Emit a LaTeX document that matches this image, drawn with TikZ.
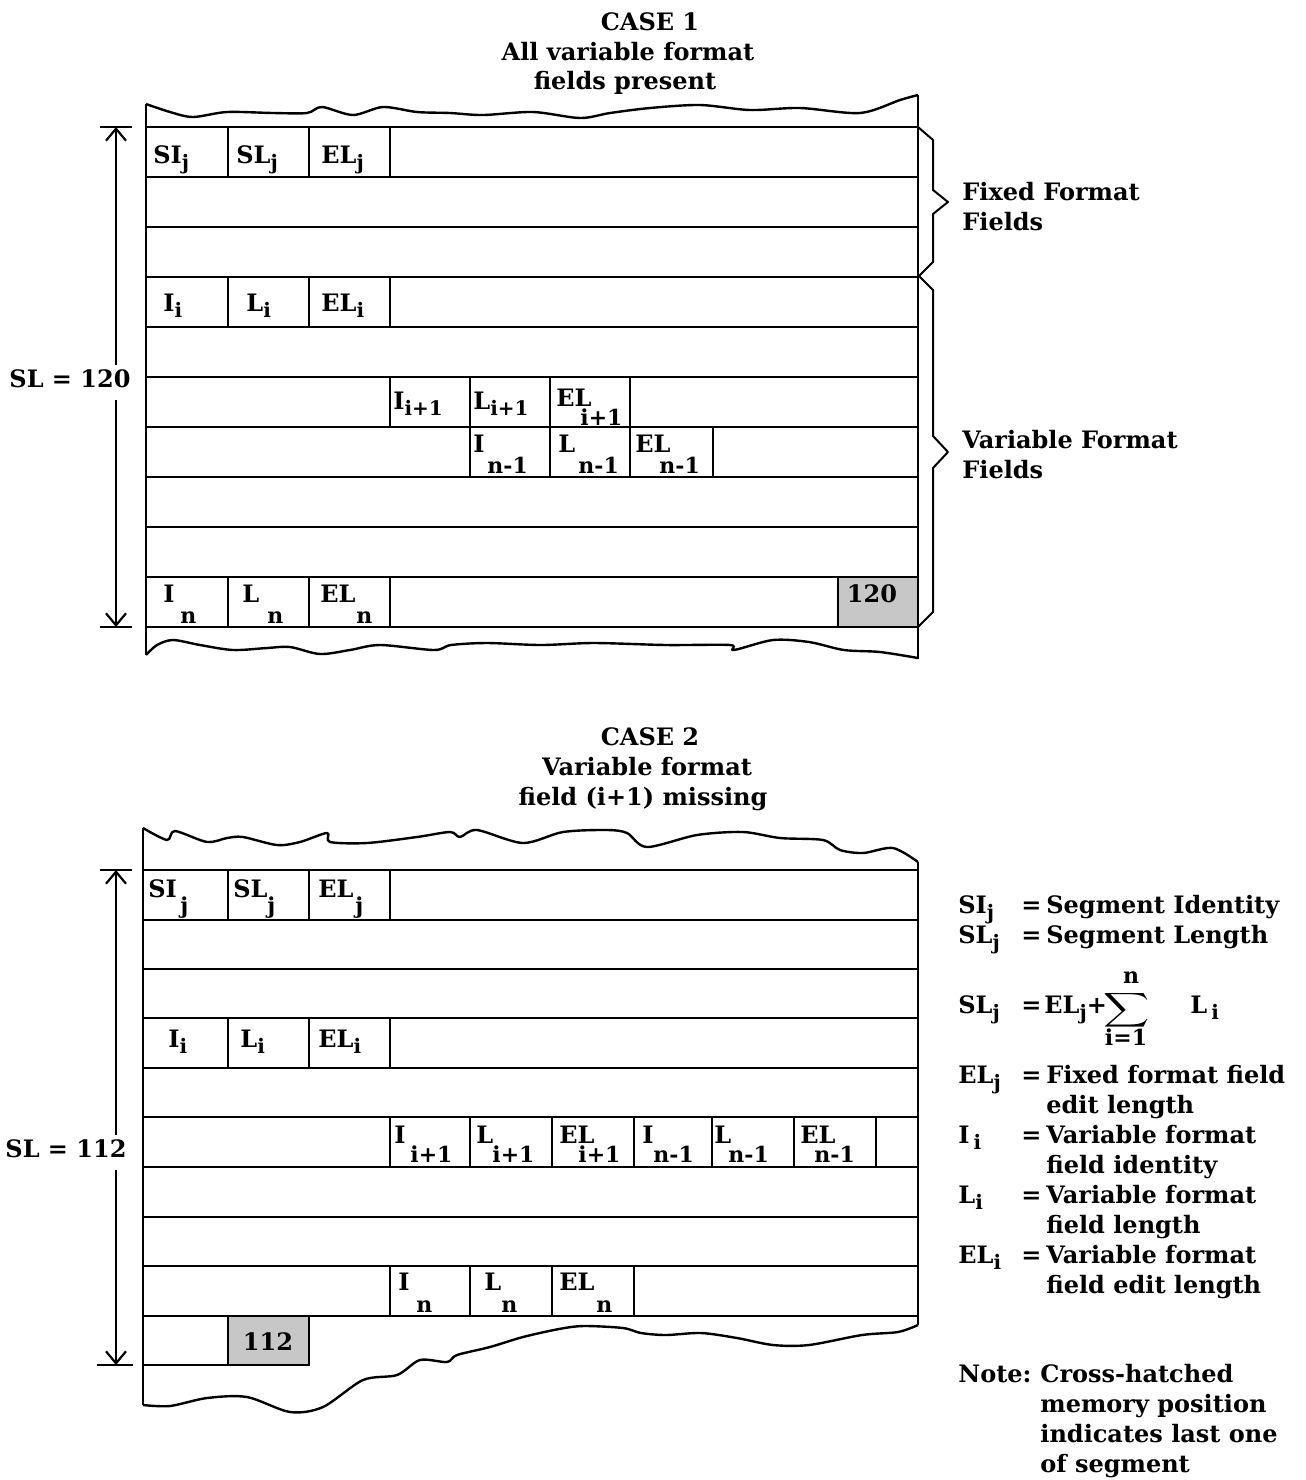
\documentclass[tikz,border=0pt]{standalone}
\usepackage{fontspec}
\setmainfont{DejaVu Serif}
\usetikzlibrary{arrows.meta}

\newcommand{\sbs}[1]{\raisebox{-0.5ex}{\fontsize{10}{12}\selectfont #1}}

\begin{document}
\begin{tikzpicture}[x=0.5pt, y=-0.5pt, >={Straight Barb[length=6pt,width=10pt,line width=1.1pt]},
                    font=\bfseries\fontsize{12}{15}\selectfont]
  \tikzstyle{edge} = [line width=1.2pt, line join=round]
  \tikzstyle{rule} = [line width=1pt]
  \tikzstyle{lbl} = [inner sep=0pt, anchor=base west]
  \tikzstyle{sublbl} = [inner sep=0pt, anchor=base west, font=\bfseries\fontsize{11}{13}\selectfont]
  \tikzstyle{last} = [rule, fill=black!22]
  \tikzstyle{ttl} = [inner sep=0pt, anchor=base]

  \useasboundingbox (0,0) rectangle (1306,1480);

  % titles
  \node[ttl] (t1a) at (650,30) {CASE 1};
  \node[ttl] (t1b) at (628,60) {All variable format};
  \node[ttl] (t1c) at (625,89) {fields present};
  \node[ttl] (t2a) at (650,745) {CASE 2};
  \node[ttl] (t2b) at (647,775) {Variable format};
  \node[ttl] (t2c) at (643,805) {field (i+1) missing};

  % ---------------- case 1 ----------------
  \filldraw[last] (838,577) rectangle (918,627);
  \node[ttl] (m120) at (872,602) {120};
  \foreach \y in {127,177,...,627} \draw[rule] (146,\y) -- (918,\y);
  \foreach \x/\ya in {228/127, 309/127, 390/127, 228/277, 309/277, 390/277,
                      390/377, 470/377, 550/377, 630/377,
                      470/427, 550/427, 630/427, 713/427,
                      228/577, 309/577, 390/577}
    \draw[rule] (\x,\ya) -- ++(0,50);
  \draw[edge] (146,104) -- (146,655);
  \draw[edge] (918,95) -- (918,659);
  \draw[edge] plot[smooth, tension=0.5] coordinates {(146,104) (170,112) (193,117) (227,112)
    (273,113) (307,113) (322,107) (353,115) (383,107) (417,112) (450,113) (483,115)
    (533,112) (580,118) (610,113) (650,108) (700,105) (750,110) (800,108) (860,113)
    (900,100) (918,95)};
  \draw[edge] plot[smooth, tension=0.5] coordinates {(146,655) (157,645) (173,640) (200,645)
    (233,650) (267,648) (290,647) (320,654) (350,650) (380,645) (434,650) (451,645)
    (487,643) (541,645) (594,643) (666,645) (730,645) (734,650) (773,640) (809,642)
    (844,650) (880,652) (918,658)};

  % braces
  \draw[rule, line join=round] (918,127) -- (933,140) -- (933,190) -- (948,202) -- (933,214)
    -- (933,262) -- (919,276) -- (933,290) -- (933,436) -- (948,452) -- (933,468)
    -- (933,612) -- (918,627);
  \node[lbl] (fx1) at (962,200) {Fixed Format};
  \node[lbl] (fx2) at (962,230) {Fields};
  \node[lbl] (vr1) at (962,448) {Variable Format};
  \node[lbl] (vr2) at (962,478) {Fields};

  % cell texts
  \foreach \x/\y/\t [count=\k] in {153/163/SI\sbs{j}, 236/163/SL\sbs{j}, 321/163/EL\sbs{j},
                                   163/311/I\sbs{i}, 246/311/L\sbs{i}, 321/311/EL\sbs{i},
                                   393/409/I\sbs{i+1}, 473/409/L\sbs{i+1}}
    \node[lbl] (ca\k) at (\x,\y) {\t};
  \foreach \x/\y/\t/\u/\v/\s [count=\k] in {556/406/EL/580/425/i+1,
                                   473/452/I/487/473/n-1, 558/452/L/578/473/n-1, 635/452/EL/659/473/n-1,
                                   163/602/I/180/623/n, 242/602/L/267/623/n, 320/602/EL/356/623/n}
  {
    \node[lbl] (cb\k) at (\x,\y) {\t};
    \node[sublbl] (cbs\k) at (\u,\v) {\s};
  }

  % segment length 1
  \coordinate (d1t) at (116,127);
  \coordinate (d1b) at (116,627);
  \node[ttl] (sl1) at (70,387) {SL = 120};
  \draw[rule] (100,127) -- (132,127);
  \draw[rule] (100,627) -- (132,627);
  \draw[rule, ->] (sl1.north -| d1t) ++(0,-4) -- (d1t);
  \draw[rule, ->] (sl1.south -| d1b) ++(0,12) -- (d1b);

  % ---------------- case 2 ----------------
  \filldraw[last] (228,1316) rectangle (309,1365);
  \node[ttl] (m112) at (268,1350) {112};
  \foreach \y in {870,920,969,1018,1068,1117,1167,1217,1266,1316} \draw[rule] (143,\y) -- (918,\y);
  \draw[rule] (143,1365) -- (309,1365);
  \foreach \x/\ya in {228/870, 309/870, 390/870, 228/1018, 309/1018, 390/1018,
                      390/1117, 470/1117, 552/1117, 634/1117, 712/1117, 794/1117, 876/1117,
                      390/1266, 470/1266, 552/1266, 634/1266}
    \draw[rule] (\x,\ya) -- ++(0,50);
  \draw[edge] (143,828) -- (143,1405);
  \draw[edge] (918,862) -- (918,1325);
  \draw[edge] plot[smooth, tension=0.5] coordinates {(143,828) (167,840) (175,831) (207,842)
    (227,838) (243,837) (277,845) (300,842) (327,833) (330,842) (367,843) (417,837)
    (450,832) (460,837) (477,830) (523,843) (563,832) (607,830) (627,833) (647,847)
    (697,835) (743,832) (780,838) (823,840) (840,850) (863,853) (893,848) (918,862)};
  \draw[edge] plot[smooth, tension=0.5] coordinates {(143,1405) (170,1406) (207,1398) (247,1397)
    (290,1412) (323,1407) (363,1380) (397,1375) (420,1360) (447,1362) (457,1355) (490,1347)
    (523,1337) (559,1329) (584,1326) (623,1328) (641,1333) (666,1335) (701,1333) (737,1338)
    (773,1345) (809,1345) (862,1335) (898,1332) (918,1325)};

  % cell texts
  \foreach \x/\y/\t [count=\k] in {168/1047/I\sbs{i}, 240/1047/L\sbs{i}, 318/1047/EL\sbs{i}}
    \node[lbl] (cc\k) at (\x,\y) {\t};
  \foreach \x/\y/\t/\u/\v/\s [count=\k] in {148/897/SI/180/913/j, 233/897/SL/267/913/j, 318/897/EL/355/913/j,
                                   394/1143/I/410/1162/i+1, 476/1143/L/492/1162/i+1, 559/1143/EL/578/1162/i+1,
                                   642/1143/I/653/1162/n-1, 714/1143/L/728/1162/n-1, 800/1143/EL/814/1162/n-1,
                                   398/1290/I/416/1312/n, 484/1290/L/501/1312/n, 559/1290/EL/596/1312/n}
  {
    \node[lbl] (cd\k) at (\x,\y) {\t};
    \node[sublbl] (cds\k) at (\u,\v) {\s};
  }

  % segment length 2
  \coordinate (d2t) at (116,870);
  \coordinate (d2b) at (116,1365);
  \node[ttl] (sl2) at (66,1157) {SL = 112};
  \draw[rule] (100,870) -- (132,870);
  \draw[rule] (97,1365) -- (133,1365);
  \draw[rule, ->] (sl2.north -| d2t) ++(0,-4) -- (d2t);
  \draw[rule, ->] (sl2.south -| d2b) ++(0,12) -- (d2b);

  % ---------------- key ----------------
  \foreach \y/\s/\d [count=\k] in {913/SI\sbs{j}/Segment Identity, 943/SL\sbs{j}/Segment Length,
                                   1083/EL\sbs{j}/Fixed format field, 1143/I\,\sbs{i}/Variable format,
                                   1203/L\sbs{i}/Variable format, 1263/EL\sbs{i}/Variable format}
  {
    \node[lbl] (ks\k) at (958,\y) {\s};
    \node[lbl] (ke\k) at (1021,\y) {=};
    \node[lbl] (kd\k) at (1046,\y) {\d};
  }
  \foreach \y/\d [count=\k] in {1113/edit length, 1173/field identity, 1233/field length, 1293/field edit length}
    \node[lbl] (kc\k) at (1046,\y) {\d};

  \node[lbl] (fs) at (958,1013) {SL\sbs{j}};
  \node[lbl] (fe) at (1021,1013) {=};
  \node[lbl] (fa) at (1044,1013) {EL\sbs{j}+};
  \node[inner sep=0pt] (fsum) at (1127,1010) {\scalebox{1.6}[1.2]{$\displaystyle\sum$}};
  \node[sublbl, anchor=base] (fn) at (1131,983) {n};
  \node[sublbl, anchor=base] (fi) at (1126,1045) {i=1};
  \node[lbl] (fl) at (1190,1013) {L\,\sbs{i}};

  \node[lbl] (nt0) at (958,1382) {Note:};
  \foreach \y/\d [count=\k] in {1382/Cross-hatched, 1412/memory position, 1442/indicates last one, 1472/of segment}
    \node[lbl] (nt\k) at (1040,\y) {\d};
\end{tikzpicture}
\end{document}
